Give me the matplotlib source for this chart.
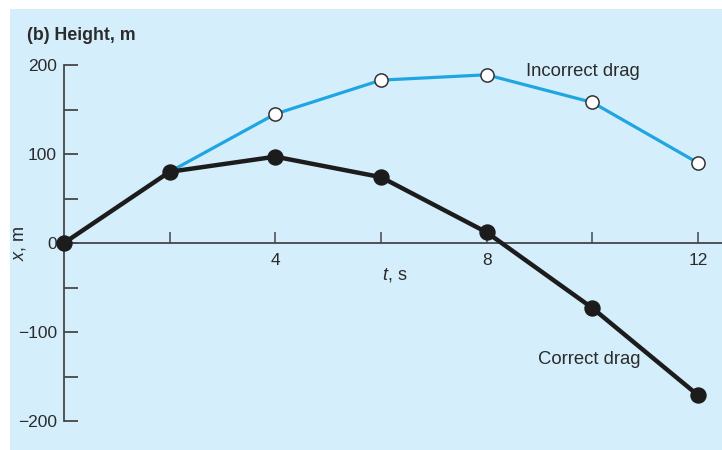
import matplotlib.pyplot as plt
from matplotlib.patches import Rectangle

plt.rcParams['font.family'] = ['Liberation Sans', 'DejaVu Sans']
plt.rcParams['mathtext.fontset'] = 'custom'
plt.rcParams['mathtext.it'] = 'Liberation Sans:italic'
plt.rcParams['mathtext.rm'] = 'Liberation Sans'

# --- DATA ---
t: list[int] = [0, 2, 4, 6, 8, 10, 12]
x_correct: list[float] = [0, 80, 97, 74, 12, -73, -171]
x_incorrect: list[float] = [0, 80, 145, 183, 189, 158, 90]
y_major: list[int] = [-200, -100, 0, 100, 200]
y_minor: list[int] = [-150, -50, 50, 150]
t_ticks: list[int] = [2, 4, 6, 8, 10, 12]
t_labels: list[str] = ['', '4', '', '8', '', '12']

bg = '#d4eefb'
blue = '#1fa6e2'
ink = '#2b2b2b'
axis_col = '#474747'

fig = plt.figure(figsize=(7.22, 4.5), dpi=100)
fig.patch.set_facecolor('white')
fig.patches.append(Rectangle((10 / 722, 0), 1, 1 - 9 / 450, transform=fig.transFigure,
                             facecolor=bg, edgecolor='none', zorder=-10))

ax = fig.add_axes([0, 0, 1, 1])
ax.set_facecolor('none')
ax.set_xlim(-64 / 52.83, 658 / 52.83)
ax.set_ylim(-207 / 0.89, 243 / 0.89)

# --- PLOTTING ---
ax.plot(t[1:], x_incorrect[1:], '-o', color=blue, lw=2.3, ms=9.5, mfc='white',
        mec='#333333', mew=1.1, markevery=list(range(1, len(t) - 1)), zorder=3, clip_on=False)
ax.plot(t, x_correct, '-o', color='#1c1c1c', lw=3.2, ms=10.8, zorder=4, clip_on=False)

for s in ['top', 'right']:
    ax.spines[s].set_visible(False)
ax.spines['left'].set_position(('data', 0))
ax.spines['left'].set_bounds(-200, 200)
ax.spines['bottom'].set_position(('data', 0))
ax.spines['bottom'].set_bounds(0, 13)
for s in ['left', 'bottom']:
    ax.spines[s].set_color(axis_col)
    ax.spines[s].set_linewidth(1.3)

ax.set_yticks(y_major)
ax.set_yticks(y_minor, minor=True)
ax.set_xticks(t_ticks)
ax.set_xticklabels(t_labels)
ax.tick_params(axis='y', which='both', direction='in', length=10, width=1.3,
               color=axis_col, pad=5, labelsize=12.5, labelcolor=ink)
ax.tick_params(axis='x', which='both', direction='in', length=8, width=1.1,
               color=axis_col, pad=7, labelsize=12.5, labelcolor=ink)

fig.text(27 / 722, 1 - 35 / 450, '(b) Height, m', fontsize=12.8, fontweight='bold',
         color=ink, va='center', ha='left')
fig.text(526 / 722, 1 - 72 / 450, 'Incorrect drag', fontsize=13.3, color=ink, va='center')
fig.text(538 / 722, 1 - 359 / 450, 'Correct drag', fontsize=13.3, color=ink, va='center')
fig.text(382 / 722, 1 - 275 / 450, '$t$, s', fontsize=13, color=ink, va='center')
fig.text(19 / 722, 1 - 243 / 450, '$x$, m', fontsize=13, color=ink, va='center',
         ha='center', rotation=90)

plt.savefig('out.png', dpi=100)
